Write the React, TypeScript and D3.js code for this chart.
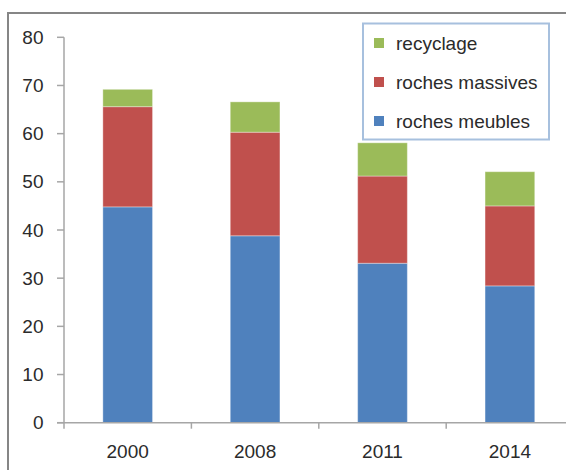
import React, { useEffect, useRef } from "react";
import * as d3 from "d3";

const years = ["2000", "2008", "2011", "2014"];
const rochesMeubles = [44.8, 38.8, 33.1, 28.4];
const rochesMassives = [20.8, 21.5, 18.1, 16.6];
const recyclage = [3.6, 6.3, 6.9, 7.1];
const yTicks = [0, 10, 20, 30, 40, 50, 60, 70, 80];

const seriesNames = ["roches meubles", "roches massives", "recyclage"];
const seriesColors = ["#4F81BD", "#C0504D", "#9BBB59"];

const W = 566;
const H = 470;
const FONT = "'Liberation Sans', Arial, sans-serif";
const FS = 19;

export default function App() {
  const ref = useRef<SVGSVGElement | null>(null);

  useEffect(() => {
    const svg = d3.select(ref.current);
    svg.selectAll("*").remove();

    const left = 64;
    const bandW = 127.4;
    const x = d3
      .scaleBand<string>()
      .domain(years)
      .range([left, left + bandW * years.length])
      .paddingInner(0.61)
      .paddingOuter(0.305);
    const y = d3.scaleLinear().domain([0, 80]).range([422.7, 37.3]);

    // chart frame
    svg
      .append("rect")
      .attr("x", 8)
      .attr("y", 13)
      .attr("width", W + 20)
      .attr("height", H + 20)
      .attr("fill", "#fff")
      .attr("stroke", "#868686")
      .attr("stroke-width", 2);

    const rows = years.map((yr, i) => ({
      year: yr,
      "roches meubles": rochesMeubles[i],
      "roches massives": rochesMassives[i],
      recyclage: recyclage[i],
    }));
    const stacked = d3.stack<any>().keys(seriesNames)(rows);

    const g = svg.append("g");
    stacked.forEach((layer, li) => {
      g.append("g")
        .selectAll("rect")
        .data(layer)
        .join("rect")
        .attr("x", (d: any) => x(d.data.year)!)
        .attr("width", x.bandwidth())
        .attr("y", (d: any) => y(d[1]))
        .attr("height", (d: any) => y(d[0]) - y(d[1]))
        .attr("fill", seriesColors[li])
        .attr("stroke", "rgba(255,255,255,0.35)")
        .attr("stroke-width", 1);
    });

    // y axis
    const axisColor = "#a6a6a6";
    svg
      .append("line")
      .attr("x1", left)
      .attr("x2", left)
      .attr("y1", y(80))
      .attr("y2", y(0))
      .attr("stroke", axisColor)
      .attr("stroke-width", 1.5);
    const yt = svg.append("g");
    yTicks.forEach((t) => {
      yt.append("line")
        .attr("x1", left - 7)
        .attr("x2", left)
        .attr("y1", y(t))
        .attr("y2", y(t))
        .attr("stroke", axisColor)
        .attr("stroke-width", 1.5);
      yt.append("text")
        .attr("x", 43.5)
        .attr("y", y(t))
        .attr("dy", "0.35em")
        .attr("text-anchor", "end")
        .attr("font-family", FONT)
        .attr("font-size", FS)
        .attr("fill", "#2b2b2b")
        .text(String(t));
    });

    // x axis
    svg
      .append("line")
      .attr("x1", left - 7)
      .attr("x2", W + 20)
      .attr("y1", y(0))
      .attr("y2", y(0))
      .attr("stroke", axisColor)
      .attr("stroke-width", 1.5);
    d3.range(years.length + 1).forEach((i) => {
      const tx = left + bandW * i;
      svg
        .append("line")
        .attr("x1", tx)
        .attr("x2", tx)
        .attr("y1", y(0))
        .attr("y2", y(0) + 6)
        .attr("stroke", axisColor)
        .attr("stroke-width", 1.5);
    });
    years.forEach((yr) => {
      svg
        .append("text")
        .attr("x", x(yr)! + x.bandwidth() / 2)
        .attr("y", 451)
        .attr("dy", "0.35em")
        .attr("text-anchor", "middle")
        .attr("font-family", FONT)
        .attr("font-size", FS)
        .attr("fill", "#2b2b2b")
        .text(yr);
    });

    // legend
    const lg = svg.append("g");
    lg.append("rect")
      .attr("x", 363)
      .attr("y", 23.5)
      .attr("width", 186)
      .attr("height", 116)
      .attr("fill", "#fff")
      .attr("stroke", "#a7c0de")
      .attr("stroke-width", 2);
    const legendItems = [
      { name: "recyclage", color: seriesColors[2], cy: 43 },
      { name: "roches massives", color: seriesColors[1], cy: 82 },
      { name: "roches meubles", color: seriesColors[0], cy: 121 },
    ];
    legendItems.forEach((it) => {
      lg.append("rect")
        .attr("x", 374)
        .attr("y", it.cy - 5)
        .attr("width", 10)
        .attr("height", 10)
        .attr("fill", it.color);
      lg.append("text")
        .attr("x", 396)
        .attr("y", it.cy)
        .attr("dy", "0.35em")
        .attr("font-family", FONT)
        .attr("font-size", FS)
        .attr("fill", "#2b2b2b")
        .text(it.name);
    });
  }, []);

  return (
    <svg
      ref={ref}
      width={W}
      height={H}
      style={{ position: "absolute", left: 0, top: 0, display: "block" }}
    />
  );
}
